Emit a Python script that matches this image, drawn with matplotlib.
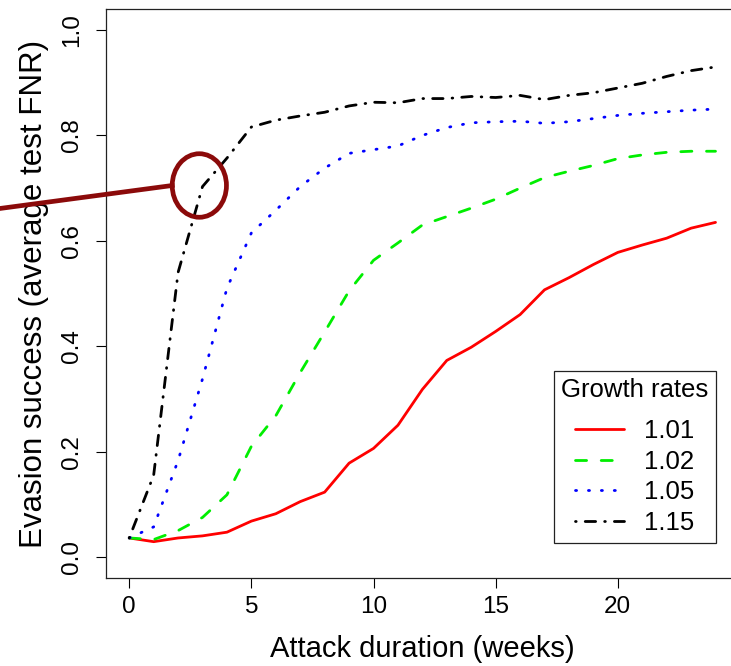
import matplotlib
matplotlib.use("Agg")
import matplotlib.pyplot as plt
from matplotlib.patches import Ellipse
from matplotlib.lines import Line2D

plt.rcParams['font.family'] = ['Liberation Sans', 'DejaVu Sans']
plt.rcParams['lines.scale_dashes'] = False

# data
weeks = list(range(25))
rate_101 = [0.036, 0.029, 0.036, 0.040, 0.047, 0.068, 0.082, 0.105, 0.123, 0.178,
            0.206, 0.250, 0.318, 0.373, 0.398, 0.428, 0.460, 0.507, 0.530, 0.555,
            0.578, 0.592, 0.605, 0.624, 0.635]
rate_102 = [0.036, 0.033, 0.050, 0.075, 0.118, 0.210, 0.268, 0.350, 0.427, 0.505,
            0.563, 0.596, 0.630, 0.646, 0.662, 0.679, 0.700, 0.720, 0.732, 0.743,
            0.756, 0.763, 0.768, 0.770, 0.770]
rate_105 = [0.036, 0.057, 0.183, 0.338, 0.510, 0.615, 0.658, 0.703, 0.738, 0.766,
            0.773, 0.780, 0.800, 0.815, 0.824, 0.826, 0.827, 0.823, 0.826, 0.832,
            0.838, 0.842, 0.845, 0.848, 0.850]
rate_115 = [0.036, 0.155, 0.540, 0.703, 0.757, 0.816, 0.829, 0.837, 0.844, 0.856,
            0.863, 0.862, 0.870, 0.870, 0.874, 0.872, 0.876, 0.868, 0.876, 0.881,
            0.890, 0.899, 0.912, 0.923, 0.930]
series_labels = ["1.01", "1.02", "1.05", "1.15"]
x_ticks = [0, 5, 10, 15, 20]
y_ticks = [0.0, 0.2, 0.4, 0.6, 0.8, 1.0]

# R-like styles: solid, dashed, dotted, dot-dash
styles = [
    dict(color="#ff0000", linestyle="-"),
    dict(color="#00ee00", linestyle=(0, (8.0, 10.5))),
    dict(color="#0000ff", linestyle=(0, (0.8, 8.5))),
    dict(color="#000000", linestyle=(0, (0.5, 6.5, 7.5, 6.5))),
]

fig = plt.figure(figsize=(7.31, 6.66), dpi=100)
ax = fig.add_axes([0.1447, 0.1321, 0.8662, 0.8544])

for vals, lab, st in zip([rate_101, rate_102, rate_105, rate_115], series_labels, styles):
    ax.plot(weeks, vals, label=lab, lw=2.0, dash_capstyle="round",
            solid_capstyle="round", **st)

ax.set_xlim(-0.96, 24.96)
ax.set_ylim(-0.04, 1.04)
ax.set_xticks(x_ticks)
ax.set_xticklabels([str(t) for t in x_ticks])
ax.set_yticks(y_ticks)
ax.set_yticklabels([f"{t:.1f}" for t in y_ticks], rotation=90, va="center")
ax.tick_params(axis="both", direction="out", length=7.2, width=0.8, labelsize=17.5)
ax.tick_params(axis="x", pad=6)
ax.tick_params(axis="y", pad=9)
for sp in ax.spines.values():
    sp.set_linewidth(0.9)
    sp.set_color("#222222")

ax.set_xlabel("Attack duration (weeks)", fontsize=21, labelpad=12)
ax.set_ylabel("Evasion success (average test FNR)", fontsize=22.5, labelpad=9)

leg = ax.legend(title="Growth rates", loc="upper right", bbox_to_anchor=(0.964, 0.3643),
                borderaxespad=0, fontsize=18.5, title_fontsize=18.5, frameon=True,
                fancybox=False, edgecolor="#222222", framealpha=1,
                handlelength=1.9, handletextpad=0.8, labelspacing=0.26, borderpad=0.3)
leg.get_frame().set_linewidth(0.9)
leg._legend_box.sep = 12

# callout ring with pointer line
ring = Ellipse((2.87, 0.705), 2.22, 0.1206, fill=False, edgecolor="#8b0a0a",
               lw=3.4, zorder=5, clip_on=False)
ax.add_patch(ring)
ax.add_line(Line2D([-6.0, 1.76], [0.657, 0.705], color="#8b0a0a", lw=3.4,
                   zorder=5, clip_on=False))

fig.savefig("out.png", dpi=100)
